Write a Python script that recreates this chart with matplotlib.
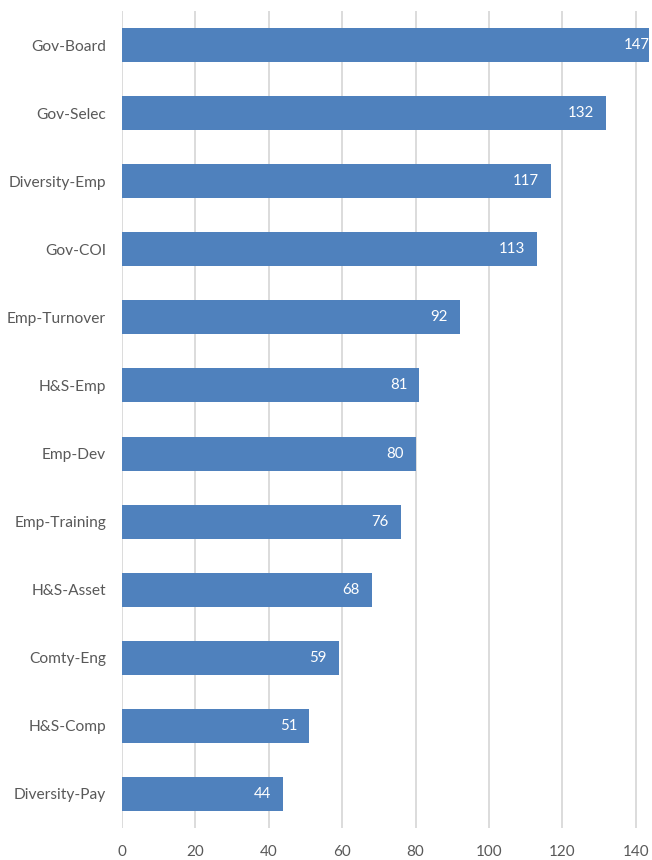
import matplotlib
matplotlib.use("Agg")
import matplotlib.pyplot as plt

categories = ["Gov-Board", "Gov-Selec", "Diversity-Emp", "Gov-COI", "Emp-Turnover",
              "H&S-Emp", "Emp-Dev", "Emp-Training", "H&S-Asset", "Comty-Eng",
              "H&S-Comp", "Diversity-Pay"]
values = [147, 132, 117, 113, 92, 81, 80, 76, 68, 59, 51, 44]
xticks = [0, 20, 40, 60, 80, 100, 120, 140]

plt.rcParams['font.family'] = ['Lato', 'DejaVu Sans']

W, H = 652, 860
fig = plt.figure(figsize=(W / 100, H / 100), dpi=100)
ax = fig.add_axes([122 / W, 1 - 828 / H, (649 - 122) / W, (828 - 11) / H])

pos = list(range(len(categories)))
ax.barh(pos, values, height=0.5, color="#4F81BD", zorder=3)
ax.set_ylim(len(categories) - 0.5, -0.5)
ax.set_xlim(0, 143.6)
ax.set_yticks(pos)
ax.set_yticklabels(categories, fontsize=11.2, color="#595959")
ax.set_xticks(xticks)
ax.set_xticklabels([str(t) for t in xticks], fontsize=11, color="#595959")
ax.tick_params(axis="y", length=0, pad=11.5)
ax.tick_params(axis="x", length=0, pad=12)
ax.grid(axis="x", color="#D9D9D9", linewidth=1.3, zorder=0)
for s in ax.spines.values():
    s.set_visible(False)

for p, v in zip(pos, values):
    ax.annotate(str(v), xy=(v, p), xytext=(-12, 0), textcoords="offset pixels",
                ha="right", va="center", color="white", fontsize=10.8,
                annotation_clip=False, zorder=4)

fig.savefig("out.png", dpi=100)
